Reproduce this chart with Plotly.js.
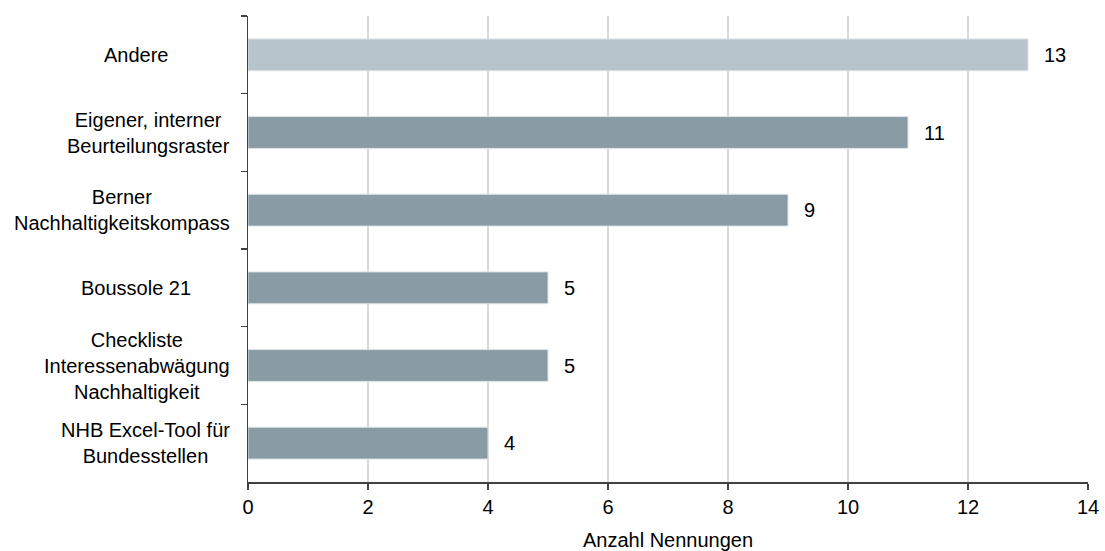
<!DOCTYPE html>
<html>
<head>
<meta charset="utf-8">
<script src="https://cdn.plot.ly/plotly-3.0.1.min.js"></script>
<style>
  html, body { margin: 0; padding: 0; background: #fff; }
  #chart { width: 1105px; height: 551px; }
</style>
</head>
<body>
<div id="chart"></div>
<script>
// ---- data ----
const categories = [
  "Andere",
  "Eigener, interner<br>Beurteilungsraster",
  "Berner<br>Nachhaltigkeitskompass",
  "Boussole 21",
  "Checkliste<br>Interessenabwägung<br>Nachhaltigkeit",
  "NHB Excel-Tool für<br>Bundesstellen"
];
const values = [13, 11, 9, 5, 5, 4];
const xTickValues = [0, 2, 4, 6, 8, 10, 12, 14];
const xAxisTitle = "Anzahl Nennungen";

// ---- styles ----
const FONT = "Liberation Sans, Arial, sans-serif";
const barColors = categories.map((c, i) => i === 0 ? "#b7c4cb" : "#899ba5");

const trace = {
  type: "bar",
  orientation: "h",
  y: categories,
  x: values,
  width: 0.41,
  marker: { color: barColors, line: { color: "#dde3e6", width: 1 } },
  hoverinfo: "x+y"
};

const annotations = [];
// category labels (multi-line centred, box right-aligned to axis)
categories.forEach((c, i) => {
  const multi = c.indexOf("<br>") >= 0;
  annotations.push({
    xref: "paper", yref: "y",
    x: 0, y: c,
    xanchor: multi ? "right" : "center",
    yanchor: "middle",
    xshift: multi ? -16 : -112,
    align: "center",
    showarrow: false,
    text: c,
    font: { family: FONT, size: 20, color: "#000" }
  });
});
// value labels
values.forEach((v, i) => {
  annotations.push({
    xref: "x", yref: "y",
    x: v, y: categories[i],
    xanchor: "left", yanchor: "middle",
    xshift: 14,
    showarrow: false,
    text: String(v),
    font: { family: FONT, size: 20, color: "#000" }
  });
});

const layout = {
  width: 1105, height: 551,
  margin: { l: 248, r: 17, t: 15.5, b: 68.5 },
  paper_bgcolor: "#fff",
  plot_bgcolor: "#fff",
  showlegend: false,
  font: { family: FONT, size: 20, color: "#000" },
  xaxis: {
    range: [0, 14],
    tickvals: xTickValues,
    ticktext: xTickValues.map(String),
    showgrid: true,
    gridcolor: "#d9d9d9",
    gridwidth: 1.5,
    zeroline: false,
    showline: true,
    linecolor: "#404040",
    linewidth: 1.5,
    ticks: "outside",
    ticklen: 6,
    tickcolor: "#404040",
    tickwidth: 1.5,
    tickfont: { family: FONT, size: 20, color: "#000" },
    title: { text: xAxisTitle, font: { family: FONT, size: 20, color: "#000" }, standoff: 17 },
    fixedrange: true
  },
  yaxis: {
    type: "category",
    categoryorder: "array",
    categoryarray: categories,
    autorange: "reversed",
    showticklabels: false,
    showgrid: false,
    zeroline: false,
    showline: true,
    linecolor: "#404040",
    linewidth: 1.5,
    ticks: "outside",
    tickson: "boundaries",
    ticklen: 6,
    tickcolor: "#404040",
    tickwidth: 1.5,
    fixedrange: true
  },
  annotations: annotations,
  bargap: 0.59
};

Plotly.newPlot("chart", [trace], layout, { displayModeBar: false, staticPlot: true });
</script>
</body>
</html>
